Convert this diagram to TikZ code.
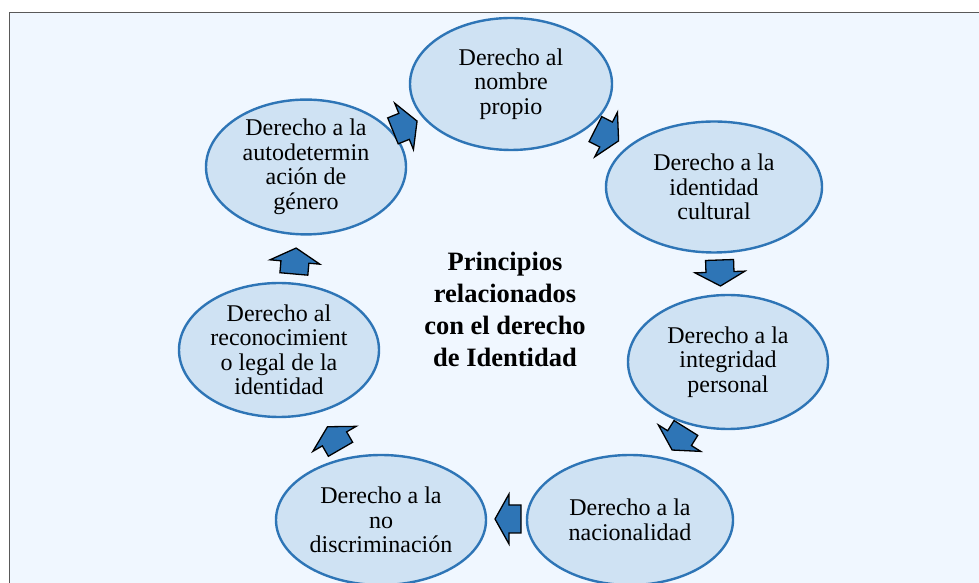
\documentclass[tikz,border=0pt]{standalone}
\usepackage{fontspec}
\setmainfont{Liberation Serif}
\usetikzlibrary{shapes.geometric}
\definecolor{bgblue}{RGB}{240,247,255}
\definecolor{ellfill}{RGB}{207,226,243}
\definecolor{ellline}{RGB}{46,117,182}
\definecolor{arrfill}{RGB}{46,117,182}
\begin{document}
\begin{tikzpicture}[x=1pt,y=1pt,
  circ/.style={ellipse, draw=ellline, fill=ellfill, line width=2.4pt, inner sep=0pt, align=center, font=\fontsize{24}{24.5}\selectfont},
  blockarrow/.style={draw=black, fill=arrfill, line width=1.3pt, line join=miter}
]
\useasboundingbox (0,0) rectangle (979,583);
\fill[white] (0,0) rectangle (979,583);
\draw[fill=bgblue, draw=gray!70!black, line width=1.5pt] (9.5,-10) rectangle (990,570.3);

\node[circ, minimum width=202pt, minimum height=132pt] (e1) at (511,499) {Derecho al\\nombre\\propio};
\node[circ, minimum width=216pt, minimum height=131pt] (e2) at (714,396) {Derecho a la\\identidad\\cultural};
\node[circ, minimum width=200pt, minimum height=134pt] (e3) at (728,221) {Derecho a la\\integridad\\personal};
\node[circ, minimum width=206pt, minimum height=130pt] (e4) at (630,63) {Derecho a la\\nacionalidad};
\node[circ, minimum width=210pt, minimum height=130pt] (e5) at (381,63) {Derecho a la\\no\\discriminación};
\node[circ, minimum width=200pt, minimum height=134pt] (e6) at (279,233) {Derecho al\\reconocimient\\o legal de la\\identidad};
\node[circ, minimum width=200pt, minimum height=132pt] (e7) at (306,416) {Derecho a la\\autodetermin\\ación de\\género};

\node[align=center, font=\fontsize{26.5}{32}\selectfont\bfseries] (center) at (505,274) {Principios\\relacionados\\con el derecho\\de Identidad};

\coordinate (a1) at (405,457);
\coordinate (a2) at (607,448);
\coordinate (a3) at (720,310);
\coordinate (a4) at (679,144);
\coordinate (a5) at (508,64);
\coordinate (a6) at (334,145);
\coordinate (a7) at (295,322);
\foreach \c/\ang in {a1/22, a2/-27, a3/-88, a4/-122, a5/180, a6/120, a7/85}{
  \draw[blockarrow, shift={(\c)}, rotate=\ang]
    (-13,-14) -- (-1,-14) -- (-1,-25) -- (13,0) -- (-1,25) -- (-1,14) -- (-13,14) -- cycle;
}
\end{tikzpicture}
\end{document}
